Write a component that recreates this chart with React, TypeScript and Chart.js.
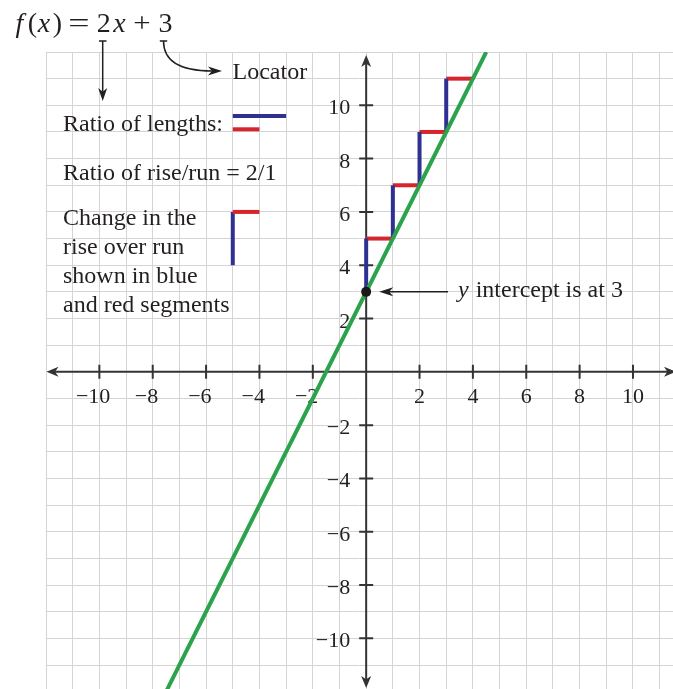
import React, { useEffect, useRef } from "react";
import { Chart, registerables } from "chart.js";
Chart.register(...registerables);

const W = 673;
const H = 689;

// Function f(x) = 2x + 3 : end points of the drawn line
const lineX = [-7.5, 4.5];
const lineY = [-12, 12];

// Rise segments (blue): vertical at x, from start to end
const riseX = [0, 1, 2, 3];
const riseStart = [3, 5, 7, 9];
const riseEnd = [5, 7, 9, 11];

// Run segments (red): horizontal at y, from start to end
const runY = [5, 7, 9, 11];
const runStart = [0, 1, 2, 3];
const runEnd = [1, 2, 3, 4];

// y-intercept point
const interceptX = [0];
const interceptY = [3];

// Key markers
const keyBlueX = [-5, -3];
const keyBlueY = [9.6, 9.6];
const keyRedX = [-5, -4];
const keyRedY = [9.1, 9.1];
const changeRedX = [-5, -4];
const changeRedY = [6, 6];
const changeBlueX = [-5, -5];
const changeBlueY = [4, 6];

// Axes
const xTicks = [-10, -8, -6, -4, -2, 2, 4, 6, 8, 10];
const yTicks = [-10, -8, -6, -4, -2, 2, 4, 6, 8, 10];
const xMin = -12;
const xMax = 11.5;
const yMin = -11.9;
const yMax = 12;

const GREEN = "#2ba24c";
const BLUE = "#2e3192";
const RED = "#d7252d";
const AXIS = "#333333";
const TEXT = "#231f20";
const GRID = "#d4d4d4";
const SERIF = '"Liberation Serif", "Times New Roman", serif';

const pts = (xs: number[], ys: number[]) => xs.map((v, i) => ({ x: v, y: ys[i] }));

function arrowHead(ctx: CanvasRenderingContext2D, tx: number, ty: number, dx: number, dy: number, len: number, half: number) {
  const bx = tx - dx * len;
  const by = ty - dy * len;
  const px = -dy;
  const py = dx;
  const notch = len * 0.72;
  ctx.beginPath();
  ctx.moveTo(tx, ty);
  ctx.lineTo(bx + px * half, by + py * half);
  ctx.lineTo(tx - dx * notch, ty - dy * notch);
  ctx.lineTo(bx - px * half, by - py * half);
  ctx.closePath();
  ctx.fill();
}

const axesPlugin = {
  id: "axesPlugin",
  beforeDatasetsDraw(chart: any) {
    const { ctx, scales } = chart;
    const xs = scales.x;
    const ys = scales.y;
    const x0 = xs.getPixelForValue(0);
    const y0 = ys.getPixelForValue(0);
    const left = xs.getPixelForValue(xMin);
    const top = ys.getPixelForValue(yMax);
    ctx.save();
    ctx.strokeStyle = AXIS;
    ctx.fillStyle = AXIS;
    ctx.lineWidth = 2;
    // x axis
    ctx.beginPath();
    ctx.moveTo(left + 6, y0);
    ctx.lineTo(W + 4, y0);
    ctx.stroke();
    arrowHead(ctx, left + 0.5, y0, -1, 0, 12, 5);
    arrowHead(ctx, W + 3, y0, 1, 0, 12, 5);
    // y axis
    ctx.beginPath();
    ctx.moveTo(x0, top + 8);
    ctx.lineTo(x0, H - 6);
    ctx.stroke();
    arrowHead(ctx, x0, top + 3, 0, -1, 12, 5);
    arrowHead(ctx, x0, H - 1, 0, 1, 12, 5);
    // ticks
    ctx.beginPath();
    xTicks.forEach((v) => {
      const p = xs.getPixelForValue(v);
      ctx.moveTo(p, y0 - 7);
      ctx.lineTo(p, y0 + 7);
    });
    yTicks.forEach((v) => {
      const p = ys.getPixelForValue(v);
      ctx.moveTo(x0 - 7, p);
      ctx.lineTo(x0 + 7, p);
    });
    ctx.stroke();
    // tick labels
    ctx.font = `22px ${SERIF}`;
    ctx.fillStyle = TEXT;
    ctx.textBaseline = "alphabetic";
    xTicks.forEach((v) => {
      const p = xs.getPixelForValue(v);
      const digits = String(Math.abs(v));
      const dw = ctx.measureText(digits).width;
      const l = p - dw / 2;
      ctx.textAlign = "left";
      ctx.fillText(digits, l, y0 + 31);
      if (v < 0) {
        ctx.textAlign = "right";
        ctx.fillText("\u2212", l, y0 + 31);
      }
    });
    ctx.textAlign = "right";
    yTicks.forEach((v) => {
      const p = ys.getPixelForValue(v);
      const label = (v < 0 ? "\u2212" : "") + String(Math.abs(v));
      ctx.fillText(label, x0 - 16, p + 9);
    });
    ctx.restore();
  },
  afterDraw(chart: any) {
    const { ctx, scales } = chart;
    const xs = scales.x;
    const ys = scales.y;
    ctx.save();
    ctx.fillStyle = TEXT;
    ctx.strokeStyle = TEXT;
    ctx.textBaseline = "alphabetic";

    // Title f(x) = 2x + 3 (glyphs centred on their positions)
    const it = `italic 28px ${SERIF}`;
    const rm = `28px ${SERIF}`;
    const parts: [string, string, number, number][] = [
      ["f", it, 19.5, 1],
      ["(", rm, 32.5, 1],
      ["x", it, 44, 1],
      [")", rm, 57.5, 1],
      ["=", rm, 78.8, 1.35],
      ["2", rm, 103.7, 1],
      ["x", it, 119.5, 1],
      ["+", rm, 142, 1.1],
      ["3", rm, 165.5, 1],
    ];
    ctx.textAlign = "center";
    parts.forEach(([t, f, px, sx]) => {
      ctx.font = f;
      ctx.save();
      ctx.translate(px, 32.3);
      ctx.scale(sx, 1);
      ctx.fillText(t, 0, 0);
      ctx.restore();
    });
    ctx.textAlign = "left";

    // arrow from "2" down
    ctx.lineWidth = 1.5;
    ctx.beginPath();
    ctx.moveTo(102.7, 41);
    ctx.lineTo(102.7, 92);
    ctx.moveTo(99, 41);
    ctx.lineTo(106.5, 41);
    ctx.stroke();
    arrowHead(ctx, 102.7, 101, 0, 1, 13, 4.5);

    // curved arrow from "3" to Locator
    ctx.beginPath();
    ctx.moveTo(163.5, 41);
    ctx.bezierCurveTo(163.5, 64, 184, 71, 212, 71);
    ctx.moveTo(159.8, 41);
    ctx.lineTo(167.2, 41);
    ctx.stroke();
    arrowHead(ctx, 222, 71, 1, 0, 14, 4.5);

    ctx.font = `24px ${SERIF}`;
    ctx.fillText("Locator", 232.5, 79);
    ctx.fillText("Ratio of lengths:", 63, 131);
    ctx.fillText("Ratio of rise/run = 2/1", 63, 180);
    const lines = ["Change in the", "rise over run", "shown in blue", "and red segments"];
    lines.forEach((l, i) => ctx.fillText(l, 63, 225 + i * 29));

    // y intercept label and arrow
    const ix = xs.getPixelForValue(interceptX[0]);
    const iy = ys.getPixelForValue(interceptY[0]);
    ctx.font = `italic 24px ${SERIF}`;
    ctx.fillText("y", 458, iy + 5);
    const yw = ctx.measureText("y").width;
    ctx.font = `24px ${SERIF}`;
    ctx.fillText(" intercept is at 3", 458 + yw + 1, iy + 5);
    ctx.lineWidth = 1.5;
    ctx.beginPath();
    ctx.moveTo(448, iy);
    ctx.lineTo(ix + 22, iy);
    ctx.stroke();
    arrowHead(ctx, ix + 13, iy, -1, 0, 14, 4.5);
    ctx.restore();
  },
};

export default function App() {
  const ref = useRef<HTMLCanvasElement | null>(null);
  useEffect(() => {
    if (!ref.current) return;
    const segDs = (data: any[], color: string) => ({
      type: "line" as const,
      data,
      borderColor: color,
      borderWidth: 4,
      pointRadius: 0,
      showLine: true,
      fill: false,
      tension: 0,
      borderCapStyle: "butt" as const,
      order: 2,
    });
    const datasets: any[] = [
      {
        type: "scatter",
        data: pts(interceptX, interceptY),
        pointRadius: 5,
        pointBackgroundColor: "#1a1a1a",
        pointBorderColor: "#1a1a1a",
        pointBorderWidth: 0,
        showLine: false,
        order: 0,
      },
      {
        type: "line",
        data: pts(lineX, lineY),
        borderColor: GREEN,
        borderWidth: 4,
        pointRadius: 0,
        showLine: true,
        fill: false,
        order: 1,
      },
      ...riseX.map((v, i) =>
        segDs(pts([v, v], [riseStart[i], riseEnd[i]]), BLUE)
      ),
      ...runY.map((v, i) =>
        segDs(pts([runStart[i], runEnd[i]], [v, v]), RED)
      ),
      segDs(pts(keyBlueX, keyBlueY), BLUE),
      segDs(pts(keyRedX, keyRedY), RED),
      segDs(pts(changeRedX, changeRedY), RED),
      segDs(pts(changeBlueX, changeBlueY), BLUE),
    ];
    const intTicks = (lo: number, hi: number) => {
      const out: { value: number }[] = [];
      for (let v = Math.ceil(lo); v <= Math.floor(hi); v++) out.push({ value: v });
      return out;
    };
    const chart = new Chart(ref.current, {
      type: "scatter",
      data: { datasets },
      options: {
        responsive: false,
        maintainAspectRatio: false,
        devicePixelRatio: 1,
        animation: false,
        events: [],
        layout: { autoPadding: false, padding: { left: 46, top: 52, right: 0, bottom: 0 } },
        plugins: { legend: { display: false }, tooltip: { enabled: false } },
        scales: {
          x: {
            type: "linear",
            min: xMin,
            max: xMax,
            ticks: { display: false, stepSize: 1 },
            grid: { color: GRID, lineWidth: 1, drawTicks: false },
            border: { display: false },
            afterBuildTicks: (s: any) => {
              s.ticks = intTicks(xMin, xMax);
            },
          },
          y: {
            type: "linear",
            min: yMin,
            max: yMax,
            ticks: { display: false, stepSize: 1 },
            grid: { color: GRID, lineWidth: 1, drawTicks: false },
            border: { display: false },
            afterBuildTicks: (s: any) => {
              s.ticks = intTicks(yMin, yMax);
            },
          },
        },
      } as any,
      plugins: [axesPlugin],
    });
    return () => chart.destroy();
  }, []);
  return (
    <div style={{ position: "absolute", left: 0, top: 0, width: W, height: H, background: "#fff" }}>
      <canvas ref={ref} width={W} height={H} style={{ display: "block", width: W, height: H }} />
    </div>
  );
}
